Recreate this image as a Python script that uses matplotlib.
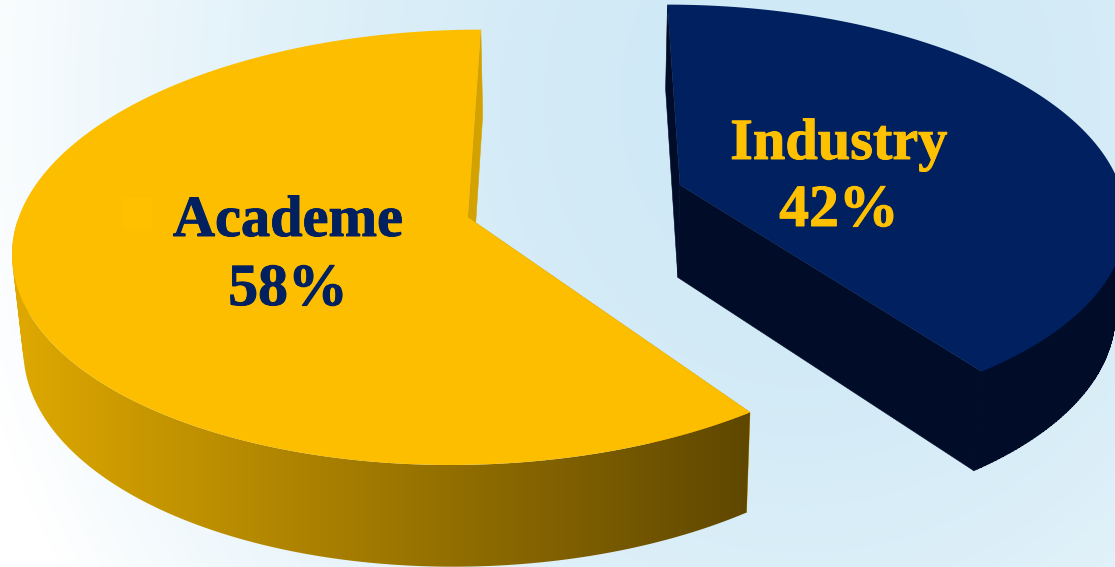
import numpy as np
import matplotlib
matplotlib.use("Agg")
import matplotlib.pyplot as plt
import matplotlib.patheffects as pe
from matplotlib.colors import to_rgb
from matplotlib.patches import PathPatch, Polygon, Rectangle
from matplotlib.path import Path

labels = ["Industry", "Academe"]
shares = [42, 58]
pct_labels = ["42%", "58%"]

# view of the tilted pie, in pixels of the picture
X0, Y0 = 575, 201
SX, SY = 440, 207
PERSP = 0.135
WARP = -14.5   # degrees, foreshortening of the slice edges
EXPLODE = {"Industry": (0.241, 0.078), "Academe": (-0.241, -0.078)}
RADIUS = 1.01

GOLD = "#fdbe00"
NAVY = "#002060"
NAVY_SIDE = "#000c28"
GOLD_SIDE_L = "#dfa900"
GOLD_SIDE_R = "#5f4700"
inner_color = {"Industry": NAVY_SIDE, "Academe": "#d4a200"}


def project(px, py):
    w = 1 + PERSP * py
    return X0 + SX * px / w, Y0 - SY * py / w


def drop(px, py):
    # same plane points, on the lower rim of the disc
    sx, sy = project(px, py)
    return X0 + 0.98 * (sx - X0), sy + 93 - 8 * py


def slice_outline(a0, a1, ox, oy, n=300):
    t = np.radians(np.linspace(a0, a1, n))
    t = t + np.radians(WARP) * np.sin(t)
    return ox + RADIUS * np.sin(t), oy + RADIUS * np.cos(t)


def wall_path(tx, ty, bx, by, keep):
    # outer wall as one quad per step, all wound the same way
    verts, codes = [], []
    for i in range(len(tx) - 1):
        if not (keep[i] and keep[i + 1]):
            continue
        q = [(tx[i], ty[i]), (tx[i + 1], ty[i + 1]), (bx[i + 1], by[i + 1]), (bx[i], by[i])]
        area = sum(q[k][0] * q[(k + 1) % 4][1] - q[(k + 1) % 4][0] * q[k][1] for k in range(4))
        if area < 0:
            q = q[::-1]
        verts += q + [q[0]]
        codes += [Path.MOVETO, Path.LINETO, Path.LINETO, Path.LINETO, Path.CLOSEPOLY]
    return Path(verts, codes)


fig = plt.figure(figsize=(11.15, 5.67), dpi=100)
ax = fig.add_axes([0, 0, 1, 1])
ax.axis("off")

# background glow
gx, gy = np.meshgrid(np.arange(1115), np.arange(567))
d = ((gx - 800) / 850) ** 2 + ((gy - 100) / 950) ** 2
d = np.clip(d, 0, 1)[..., None]
bg = np.array(to_rgb("#cfe9f6")) * (1 - d) + np.array([1, 1, 1]) * d
ax.imshow(bg, extent=(0, 1115, 567, 0), aspect="auto", zorder=0)

# slices run clockwise from the top
edges = np.cumsum([0] + shares) / sum(shares) * 360
spans = {lab: (edges[i], edges[i + 1]) for i, lab in enumerate(labels)}


def draw_slice(name, side_face, top_color):
    a0, a1 = spans[name]
    ox, oy = EXPLODE[name]
    px, py = slice_outline(a0, a1, ox, oy)

    tx, ty = project(px, py)
    bx, by = drop(px, py)
    cx, cy = project(ox, oy)
    dx, dy = drop(ox, oy)

    # the two cut walls go behind the outer wall
    for i in (0, -1):
        ax.add_patch(Polygon([(cx, cy), (tx[i], ty[i]), (bx[i], by[i]), (dx, dy)],
                             closed=True, fc=inner_color[name], ec=inner_color[name],
                             lw=0.4, zorder=1.9))

    # only the near half of the rim can show
    wall = PathPatch(wall_path(tx, ty, bx, by, py < oy), fc="none", ec="none", zorder=2)
    ax.add_patch(wall)
    side_face(wall)

    ax.add_patch(Polygon(np.column_stack([np.r_[cx, tx], np.r_[cy, ty]]),
                         closed=True, fc=top_color, ec="none", zorder=3))


def gold_wall(patch):
    ramp = np.linspace(0, 1, 512)[None, :, None]
    img = np.array(to_rgb(GOLD_SIDE_L)) * (1 - ramp) + np.array(to_rgb(GOLD_SIDE_R)) * ramp
    im = ax.imshow(img, extent=(12, 750, 567, 0), aspect="auto", zorder=2)
    im.set_clip_path(patch)


def navy_wall(patch):
    patch.set_facecolor(NAVY_SIDE)
    patch.set_edgecolor(NAVY_SIDE)
    patch.set_linewidth(1.0)


draw_slice("Academe", gold_wall, GOLD)
draw_slice("Industry", navy_wall, NAVY)
ax.set_xlim(0, 1115)
ax.set_ylim(567, 0)

# leftover legend key on the gold face
ax.add_patch(Rectangle((122, 198), 30, 30, fc="#ffc000", ec="none", zorder=3.5))

font = dict(family="Liberation Serif", fontweight="bold",
            ha="center", va="center", zorder=5)
navy_bold = [pe.withStroke(linewidth=0.7, foreground=NAVY)]
gold_bold = [pe.withStroke(linewidth=0.7, foreground="#ffc000")]
ax.text(288, 222, labels[1], color=NAVY, fontsize=42, path_effects=navy_bold, **font)
ax.text(288, 291, pct_labels[1], color=NAVY, fontsize=43, path_effects=navy_bold, **font)
ax.text(839, 145, labels[0], color="#ffc000", fontsize=42, path_effects=gold_bold, **font)
ax.text(839, 212, pct_labels[0], color="#ffc000", fontsize=43, path_effects=gold_bold, **font)

fig.savefig("out.png", dpi=100)
